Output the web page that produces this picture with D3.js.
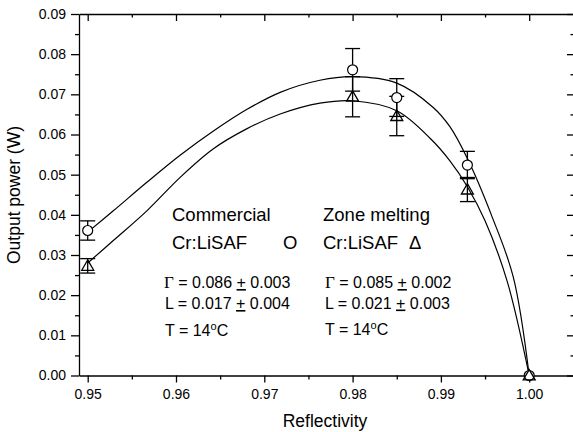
<!DOCTYPE html>
<html>
<head>
<meta charset="utf-8">
<script src="https://cdn.jsdelivr.net/npm/d3@7"></script>
<style>
  body { margin: 0; background: #fff; }
  text { font-family: "Liberation Sans", Arial, sans-serif; fill: #000; }
</style>
</head>
<body>
<div id="chart"></div>
<script>
// Measured points
var reflectivity = [0.95, 0.98, 0.985, 0.993, 1.00];
var commercialPower = [0.0361, 0.0761, 0.0692, 0.0524, 0];
var commercialErr = [0.0024, 0.0053, 0.0047, 0.0034, 0];
var zonePower = [0.0273, 0.0694, 0.0646, 0.0463, 0];
var zoneErr = [0.0018, 0.0050, 0.0049, 0.0030, 0];

// Fitted curves
var commercialFitR = [0.95, 0.9529, 0.9567, 0.9605, 0.9642, 0.968, 0.9718, 0.9763, 0.98, 0.985, 0.9891, 0.991, 0.993, 0.9958, 0.9982, 1.0];
var commercialFitP = [0.0357, 0.0410, 0.0481, 0.0549, 0.0608, 0.0662, 0.0705, 0.0735, 0.0744, 0.0728, 0.0668, 0.0620, 0.0540, 0.0395, 0.0245, 0];
var zoneFitR = [0.95, 0.9529, 0.9567, 0.9605, 0.9642, 0.968, 0.9718, 0.9763, 0.98, 0.985, 0.9888, 0.991, 0.993, 0.995, 0.9975, 1.0];
var zoneFitP = [0.0280, 0.0336, 0.0410, 0.0494, 0.0564, 0.0614, 0.0651, 0.0678, 0.0684, 0.0659, 0.0590, 0.0535, 0.0470, 0.0385, 0.0235, 0];

// Ticks
var xTicks = [0.95, 0.96, 0.97, 0.98, 0.99, 1.00];
var xMinor = [0.955, 0.965, 0.975, 0.985, 0.995];
var yTicks = [0, 0.01, 0.02, 0.03, 0.04, 0.05, 0.06, 0.07, 0.08, 0.09];
var yMinor = [0.005, 0.015, 0.025, 0.035, 0.045, 0.055, 0.065, 0.075, 0.085];

var svgWidth = 573;
var svgHeight = 432;
var plot = { left: 79, right: 574, top: 14, bottom: 375.5 };

var svg = d3.select("#chart").append("svg")
    .attr("width", svgWidth)
    .attr("height", svgHeight);

var x = d3.scaleLinear()
    .domain([0.949015, 1.005074])
    .range([plot.left, plot.right]);

var y = d3.scaleLinear()
    .domain([0, 0.09])
    .range([plot.bottom, plot.top]);

// helper to draw axis with major + minor ticks
function drawAxis(axisFn, scale, major, minor, transform, majorSize, minorSize, labels, fmt) {
    var g = svg.append("g").attr("transform", transform);
    g.call(axisFn(scale).tickValues(minor).tickSize(minorSize).tickFormat(""));
    g.call(function(s) { s.selectAll(".domain").remove(); });
    var gm = svg.append("g").attr("transform", transform);
    gm.call(axisFn(scale).tickValues(major).tickSizeInner(majorSize).tickSizeOuter(0)
        .tickFormat(labels ? fmt : ""));
    gm.selectAll(".domain").attr("stroke-width", 1.3);
    gm.selectAll("line").attr("stroke-width", 1.3);
    g.selectAll("line").attr("stroke-width", 1.3);
    gm.selectAll("text").attr("font-size", "14px")
        .attr("font-family", "Liberation Sans, Arial, sans-serif");
    return gm;
}

var fmt2 = d3.format(".2f");
var bx = drawAxis(d3.axisBottom, x, xTicks, xMinor, `translate(0,${plot.bottom})`, 7, 4, true, fmt2);
bx.selectAll("text").attr("dy", "0.96em");
drawAxis(d3.axisTop, x, xTicks, xMinor, `translate(0,${plot.top})`, -7, -3.5, false);
var ly = drawAxis(d3.axisLeft, y, yTicks, yMinor, `translate(${plot.left},0)`, 8, 4, true, fmt2);
ly.selectAll("text").attr("x", -13);
drawAxis(d3.axisRight, y, yTicks, yMinor, `translate(${plot.right},0)`, -7, -3.5, false);

// Fit curves
var line = d3.line()
    .x(d => x(d[0]))
    .y(d => y(d[1]))
    .curve(d3.curveCatmullRom.alpha(0.5));

[[commercialFitR, commercialFitP], [zoneFitR, zoneFitP]].forEach(function(s) {
    svg.append("path")
        .datum(d3.zip(s[0], s[1]))
        .attr("fill", "none")
        .attr("stroke", "#000")
        .attr("stroke-width", 1.2)
        .attr("d", line);
});

// Error bars
function errorBars(vals, errs) {
    var g = svg.append("g").attr("stroke", "#000").attr("stroke-width", 1.3);
    reflectivity.forEach(function(r, i) {
        if (errs[i] <= 0) return;
        var cx = x(r), y1 = y(vals[i] + errs[i]), y2 = y(vals[i] - errs[i]);
        g.append("line").attr("x1", cx).attr("x2", cx).attr("y1", y1).attr("y2", y2);
        g.append("line").attr("x1", cx - 7.5).attr("x2", cx + 7.5).attr("y1", y1).attr("y2", y1);
        g.append("line").attr("x1", cx - 7.5).attr("x2", cx + 7.5).attr("y1", y2).attr("y2", y2);
    });
}
errorBars(commercialPower, commercialErr);
errorBars(zonePower, zoneErr);

// Markers
svg.append("g").selectAll("circle")
    .data(d3.zip(reflectivity, commercialPower))
    .enter()
    .append("circle")
    .attr("cx", d => x(d[0]))
    .attr("cy", d => y(d[1]))
    .attr("r", 5)
    .attr("fill", "#fff")
    .attr("stroke", "#000")
    .attr("stroke-width", 1.2);

var tri = d3.symbol().type(d3.symbolTriangle).size(62);
svg.append("g").selectAll("path")
    .data(d3.zip(reflectivity, zonePower))
    .enter()
    .append("path")
    .attr("transform", d => `translate(${x(d[0])},${y(d[1]) + 1})`)
    .attr("d", tri)
    .attr("fill", "none")
    .attr("stroke", "#000")
    .attr("stroke-width", 1.3);

// Annotation text
function label(tx, ty, size, str) {
    return svg.append("text").attr("x", tx).attr("y", ty)
        .attr("font-size", size + "px").text(str);
}
label(172, 221, 18.5, "Commercial");
label(172, 249, 18.5, "Cr:LiSAF");
label(283, 249, 18.5, "O");
label(323, 221, 18.5, "Zone melting");
label(323, 249, 18.5, "Cr:LiSAF");
label(409, 249, 18.5, "\u0394");

function paramLine(tx, ty, name, serif, val, err) {
    var t = svg.append("text").attr("x", tx).attr("y", ty).attr("font-size", "16px");
    var n = t.append("tspan").text(name);
    if (serif) n.attr("font-family", "Liberation Serif, Times New Roman, serif").attr("font-size", "17px");
    t.append("tspan").text(" = " + val + " ");
    t.append("tspan").attr("text-decoration", "underline").text("+");
    t.append("tspan").text(" " + err);
}
paramLine(164, 288, "\u0393", true, "0.086", "0.003");
paramLine(165, 309, "L", false, "0.017", "0.004");
paramLine(325, 288, "\u0393", true, "0.085", "0.002");
paramLine(325, 308.5, "L", false, "0.021", "0.003");

function tempLine(tx, ty) {
    var t = svg.append("text").attr("x", tx).attr("y", ty).attr("font-size", "16px");
    t.append("tspan").text("T = 14");
    t.append("tspan").attr("font-size", "11px").attr("dy", -6).text("o");
    t.append("tspan").attr("dy", 6).text("C");
}
tempLine(165, 336);
tempLine(325, 335);

// Axis titles
svg.append("text")
    .attr("x", 325)
    .attr("y", 427)
    .attr("text-anchor", "middle")
    .attr("font-size", "17.5px")
    .text("Reflectivity");

svg.append("text")
    .attr("transform", `translate(20, 195) rotate(-90)`)
    .attr("text-anchor", "middle")
    .attr("font-size", "17.5px")
    .text("Output power (W)");
</script>
</body>
</html>
